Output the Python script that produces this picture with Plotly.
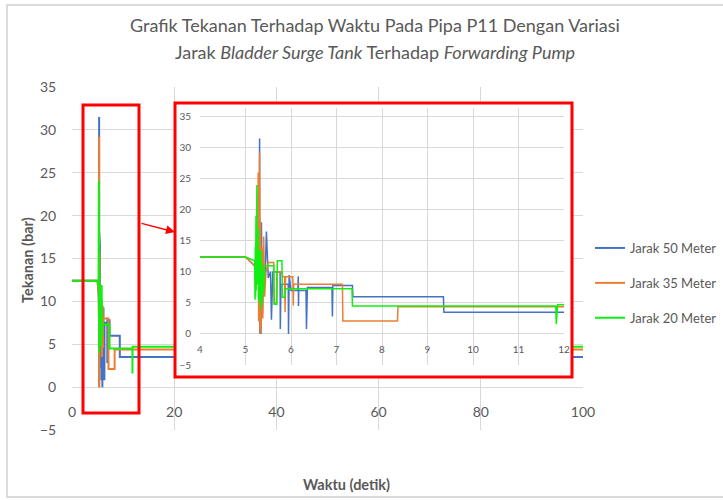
import plotly.graph_objects as go

W, H = 723, 500


def fx(p):
    return p / W


def fy(p):
    return 1 - p / H


# ---------------- data ----------------
series_names = ["Jarak 50 Meter", "Jarak 35 Meter", "Jarak 20 Meter"]
series_colors = ["#4472C4", "#ED7D31", "#11EE11"]

t_50 = [0, 5.0, 5.17, 5.22, 5.25, 5.28, 5.30, 5.31, 5.315, 5.33, 5.34, 5.35, 5.37, 5.40, 5.43,
        5.46, 5.50, 5.55, 5.57, 5.60, 5.76, 5.765, 5.78, 5.94, 5.945, 5.96, 6.0, 6.15, 6.16,
        6.165, 6.17, 6.33, 6.34, 6.36, 6.90, 6.91, 6.92, 7.35, 7.36, 9.35, 9.36, 100]
p_50 = [12.4, 12.4, 11.2, 10.8, 10.5, 8.0, 12.0, 31.5, 0.0, 14.0, 0.0, 18.0, 3.0, 11.0, 9.0,
        16.5, 9.0, 10.0, 2.3, 10.0, 10.0, 0.8, 8.0, 8.0, 0.0, 9.5, 7.0, 7.0, 9.3,
        4.5, 7.0, 7.0, 0.8, 7.5, 7.5, 2.8, 7.8, 7.8, 6.0, 6.0, 3.5, 3.5]

t_35 = [0, 5.0, 5.17, 5.22, 5.26, 5.28, 5.29, 5.31, 5.32, 5.33, 5.34, 5.36, 5.38, 5.40, 5.42,
        5.45, 5.50, 5.62, 5.63, 5.68, 5.69, 5.80, 5.82, 5.86, 5.87, 5.88, 6.04, 6.05, 6.06,
        7.13, 7.14, 8.34, 8.35, 100]
p_35 = [12.4, 12.4, 11.2, 10.8, 8.0, 26.0, 2.0, 29.2, 0.0, 18.0, 0.5, 14.0, 2.5, 15.7, 6.0,
        10.0, 11.5, 11.5, 5.0, 5.0, 10.0, 10.0, 9.2, 9.2, 3.5, 9.2, 9.2, 4.6, 8.0,
        8.0, 2.1, 2.1, 4.4, 4.4]

t_20 = [0, 5.0, 5.20, 5.21, 5.215, 5.22, 5.23, 5.235, 5.24, 5.25, 5.26, 5.265, 5.27, 5.28,
        5.285, 5.29, 5.30, 5.305, 5.31, 5.32, 5.325, 5.33, 5.34, 5.345, 5.35, 5.36, 5.37,
        5.38, 5.39, 5.40, 5.42, 5.62, 5.63, 5.69,
        5.70, 5.80, 5.81, 5.86, 5.88, 7.34, 7.35, 11.82, 11.83, 11.86, 100]
p_20 = [12.4, 12.4, 11.8, 5.5, 14.0, 6.0, 19.0, 7.0, 14.5, 24.0, 8.0, 18.0, 9.0, 17.0,
        5.5, 15.0, 7.0, 13.5, 5.0, 13.0, 6.5, 12.0, 4.0, 11.5, 13.5, 5.0, 11.0,
        6.0, 10.0, 7.0, 11.0, 11.0, 4.8, 4.8,
        11.8, 11.8, 5.9, 5.9, 7.3, 7.3, 4.5, 4.5, 1.6, 4.7, 4.7]

times = [t_50, t_35, t_20]
pressures = [p_50, p_35, p_20]

main_x_ticks = [0, 20, 40, 60, 80, 100]
main_y_ticks = [-5, 0, 5, 10, 15, 20, 25, 30, 35]
inset_x_ticks = [4, 5, 6, 7, 8, 9, 10, 11, 12]
inset_y_ticks = [-5, 0, 5, 10, 15, 20, 25, 30, 35]

title_line1 = "Grafik Tekanan Terhadap Waktu Pada Pipa P11 Dengan Variasi"
title_line2 = "Jarak <i>Bladder Surge Tank</i> Terhadap <i>Forwarding Pump</i>"
x_title = "Waktu (detik)"
y_title = "Tekanan (bar)"

FONT = "Lato, Carlito, 'Open Sans', sans-serif"
GRAY = "#595959"
GRID = "#d9d9d9"

fig = go.Figure()

# main chart
for name, c, t, p in zip(series_names, series_colors, times, pressures):
    fig.add_trace(go.Scatter(x=t, y=p, mode="lines", name=name, legendgroup=name,
                             line=dict(color=c, width=2), xaxis="x", yaxis="y"))

# white cover for the inset box (drawn on its own subplot above the main one)
fig.add_trace(go.Scatter(x=[0, 1, 1, 0, 0], y=[0, 0, 1, 1, 0], mode="lines", fill="toself",
                         fillcolor="white", line=dict(width=0, color="white"),
                         hoverinfo="skip", showlegend=False, xaxis="x2", yaxis="y2"))

# inset chart
for name, c, t, p in zip(series_names, series_colors, times, pressures):
    fig.add_trace(go.Scatter(x=t, y=p, mode="lines", name=name, legendgroup=name,
                             showlegend=False, line=dict(color=c, width=1.5),
                             xaxis="x3", yaxis="y3"))

tick_common = dict(ticks="outside", tickcolor="rgba(0,0,0,0)", showline=False,
                   zeroline=False, showgrid=True, gridcolor=GRID, gridwidth=1)

fig.update_layout(
    width=W, height=H, autosize=False,
    margin=dict(l=0, r=0, t=0, b=0, autoexpand=False),
    paper_bgcolor="white", plot_bgcolor="white",
    font=dict(family=FONT, color=GRAY),
    showlegend=True,
    legend=dict(x=fx(590), y=fy(233), xanchor="left", yanchor="top",
                font=dict(size=13, color=GRAY, family=FONT), tracegroupgap=15,
                bgcolor="rgba(0,0,0,0)"),
    xaxis=dict(domain=[fx(72), fx(583)], range=[0, 100], tickvals=main_x_ticks,
               anchor="free", position=fy(389), ticklen=10,
               tickfont=dict(size=14, color=GRAY), **tick_common),
    yaxis=dict(domain=[fy(430), fy(87)], range=[-5, 35], tickvals=main_y_ticks,
               anchor="x", ticklen=12, tickfont=dict(size=14, color=GRAY), **tick_common),
    xaxis2=dict(domain=[fx(175), fx(572)], range=[0, 1], visible=False, anchor="y2"),
    yaxis2=dict(domain=[fy(377), fy(103)], range=[0, 1], visible=False, anchor="x2"),
    xaxis3=dict(domain=[fx(200), fx(564)], range=[4, 12], tickvals=inset_x_ticks,
                anchor="free", position=fy(334), ticklen=6,
                tickfont=dict(size=10, color=GRAY), **tick_common),
    yaxis3=dict(domain=[fy(365), fy(108)], range=[-5, 36.4], tickvals=inset_y_ticks,
                anchor="x3", ticklen=6, tickfont=dict(size=10, color=GRAY), **tick_common),
)

shapes = [
    # outer chart border
    dict(type="rect", xref="paper", yref="paper", x0=fx(7), x1=1.05, y0=fy(497), y1=fy(5),
         line=dict(color="#d0d0d0", width=1.5), layer="below"),
    # red highlight on main chart
    dict(type="rect", xref="paper", yref="paper", x0=fx(83), x1=fx(139), y0=fy(413), y1=fy(105),
         line=dict(color="#FF0000", width=3), layer="above"),
    # red border of inset
    dict(type="rect", xref="paper", yref="paper", x0=fx(175), x1=fx(572), y0=fy(377), y1=fy(103),
         line=dict(color="#FF0000", width=3), layer="above"),
]
fig.update_layout(shapes=shapes)

annotations = [
    dict(text=title_line1, x=fx(375), y=fy(25), xref="paper", yref="paper", showarrow=False,
         xanchor="center", yanchor="middle", font=dict(size=18, color=GRAY, family=FONT)),
    dict(text=title_line2, x=fx(375), y=fy(52), xref="paper", yref="paper", showarrow=False,
         xanchor="center", yanchor="middle", font=dict(size=18, color=GRAY, family=FONT)),
    dict(text="<b>" + y_title + "</b>", x=fx(27), y=fy(260), xref="paper", yref="paper",
         showarrow=False, textangle=-90, xanchor="center", yanchor="middle",
         font=dict(size=14.5, color=GRAY, family=FONT)),
    dict(text="<b>" + x_title + "</b>", x=fx(346), y=fy(484), xref="paper", yref="paper",
         showarrow=False, xanchor="center", yanchor="middle",
         font=dict(size=14.5, color=GRAY, family=FONT)),
    dict(text="", x=fx(175), y=fy(232), xref="paper", yref="paper", showarrow=True,
         ax=-35, ay=-9, axref="pixel", ayref="pixel", arrowcolor="#FF0000",
         arrowwidth=1.5, arrowhead=2, arrowsize=1.2),
]
fig.update_layout(annotations=annotations)

fig.write_html("out.html", config={"displayModeBar": False},
               post_script="document.body.style.margin='0';document.body.style.padding='0';")
